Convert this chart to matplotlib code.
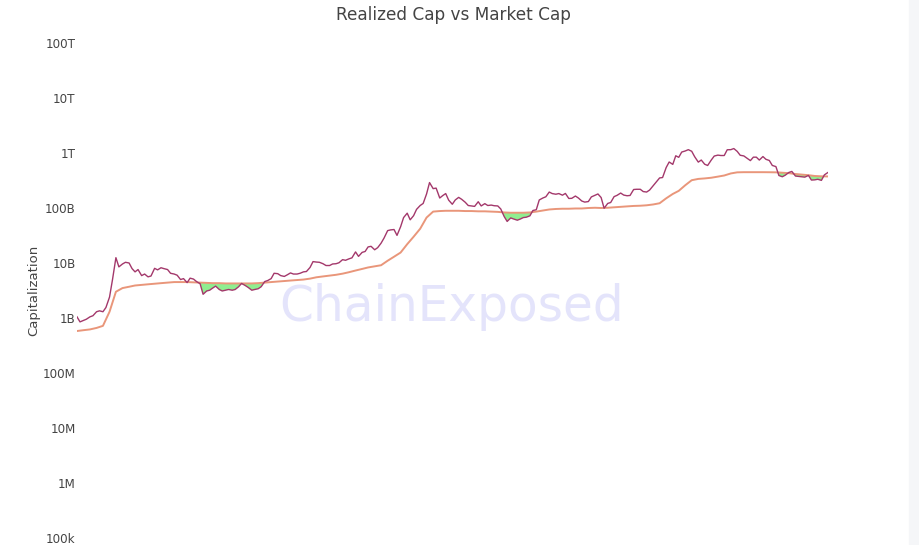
import matplotlib
import matplotlib.pyplot as plt
import matplotlib.patches as mpatches
import numpy as np
import pandas as pd

matplotlib.use('agg')

# market cap, in billions USD, 1st and 15th of each month (jun 2013 - feb 2023)
mcap_2013 = [1.05, 0.85, 0.90, 0.95, 1.05, 1.10, 1.30, 1.35, 1.30, 1.55, 2.4, 5.0, 12.5, 8.5]
mcap_2014 = [9.6, 10.3, 10.0, 7.9, 6.9, 7.6, 5.9, 6.3, 5.6, 5.8, 8.0, 7.5,
             8.2, 7.9, 7.6, 6.5, 6.3, 6.0, 5.0, 5.2, 4.4, 5.3, 5.1, 4.6]
mcap_2015 = [4.2, 2.7, 3.1, 3.2, 3.5, 3.8, 3.3, 3.1, 3.2, 3.3, 3.2, 3.3,
             3.7, 4.25, 3.9, 3.6, 3.2, 3.3, 3.4, 3.7, 4.6, 4.8, 5.2, 6.5]
mcap_2016 = [6.4, 5.9, 5.7, 6.1, 6.6, 6.3, 6.3, 6.5, 6.9, 7.0, 8.3, 10.6,
             10.4, 10.3, 9.7, 9.0, 9.0, 9.6, 9.7, 10.1, 11.5, 11.2, 11.9, 12.4]
mcap_2017 = [15.9, 13.2, 15.6, 16.2, 19.6, 20.1, 17.4, 19.0, 22.9, 28.4, 38.8, 40.0,
             40.6, 31.8, 45.7, 67.0, 80.5, 61.0, 72.5, 94.5, 111, 121, 180, 290]
mcap_2018 = [225, 230, 152, 168, 183, 139, 117, 140, 156, 144, 127, 111,
             109, 107, 130, 109, 120, 111, 113, 110, 109, 96, 70, 57]
mcap_2019 = [66, 63, 60, 63, 67, 68, 72, 90, 93, 140, 152, 160,
             195, 183, 178, 183, 171, 184, 149, 150, 165, 152, 134, 128]
mcap_2020 = [131, 159, 170, 180, 155, 99, 121, 126, 161, 170, 187, 172,
             167, 169, 217, 219, 219, 199, 195, 212, 255, 296, 352, 358]
mcap_2021 = [545, 686, 621, 890, 834, 1040, 1090, 1150, 1075, 855, 683, 745,
             625, 593, 745, 880, 915, 900, 900, 1145, 1150, 1205, 1070, 910]
mcap_2022 = [885, 810, 727, 840, 840, 744, 862, 768, 731, 594, 566, 390,
             370, 395, 443, 462, 381, 375, 368, 364, 391, 322, 325, 333]
mcap_2023 = [318, 400, 443]

# realized cap, in billions USD, 1st of each month
rcap_2013 = [0.58, 0.60, 0.62, 0.66, 0.72, 1.3, 3.0]
rcap_2014 = [3.5, 3.7, 3.9, 4.0, 4.1, 4.2, 4.3, 4.4, 4.5, 4.5, 4.5, 4.45]
rcap_2015 = [4.4, 4.35, 4.3, 4.3, 4.25, 4.25, 4.25, 4.25, 4.25, 4.3, 4.4, 4.5]
rcap_2016 = [4.6, 4.7, 4.8, 4.9, 5.0, 5.2, 5.5, 5.7, 5.9, 6.1, 6.4, 6.8]
rcap_2017 = [7.3, 7.8, 8.3, 8.7, 9.1, 11.0, 13.0, 15.5, 22, 30, 42, 67]
rcap_2018 = [86, 88, 89, 89, 89, 88, 88, 87, 87, 86, 85, 83]
rcap_2019 = [82, 82, 82, 83, 86, 90, 94, 96, 97, 97, 98, 98]
rcap_2020 = [100, 101, 100, 101, 103, 105, 107, 109, 110, 112, 116, 122]
rcap_2021 = [150, 180, 205, 260, 320, 338, 345, 355, 372, 390, 425, 445]
rcap_2022 = [448, 448, 448, 448, 447, 445, 438, 430, 415, 405, 395, 382]
rcap_2023 = [377, 375]

tick_vals = [1e5, 1e6, 1e7, 1e8, 1e9, 1e10, 1e11, 1e12, 1e13, 1e14]
tick_labels = ['100k', '1M', '10M', '100M', '1B', '10B', '100B', '1T', '10T', '100T']

mcap = np.array(mcap_2013 + mcap_2014 + mcap_2015 + mcap_2016 + mcap_2017 + mcap_2018
                + mcap_2019 + mcap_2020 + mcap_2021 + mcap_2022 + mcap_2023) * 1e9
rcap = np.array(rcap_2013 + rcap_2014 + rcap_2015 + rcap_2016 + rcap_2017 + rcap_2018
                + rcap_2019 + rcap_2020 + rcap_2021 + rcap_2022 + rcap_2023) * 1e9

mdates = pd.date_range('2013-06-01', '2023-02-01', freq='SMS')
rdates = pd.date_range('2013-06-01', '2023-02-01', freq='MS')

W, H = 920, 545
plt.rcParams['font.family'] = ['DejaVu Sans']
fig = plt.figure(figsize=(W / 100, H / 100), dpi=100)

# axes placed in pixels
left, right, top, bottom = 77, 828, 30, 545
ax = fig.add_axes([left / W, 1 - bottom / H, (right - left) / W, (bottom - top) / H])

# y range so that 1e14 sits at y=43 and 1e5 at y=538
dec = (538 - 43) / 9.0
ymax = 10 ** (14 + (43 - top) / dec)
ymin = 10 ** (5 - (bottom - 538) / dec)

# realized cap on the market-cap dates, only for the fill
rx = rdates.values.astype('datetime64[D]').astype(float)
mx = mdates.values.astype('datetime64[D]').astype(float)
r_on_m = 10 ** np.interp(mx, rx, np.log10(rcap))

ax.fill_between(mdates, mcap, r_on_m, where=mcap < r_on_m, interpolate=True,
                color='#90ee90', linewidth=0, zorder=1)
ax.plot(rdates, rcap, color='#e9967a', linewidth=1.4, zorder=2)
ax.plot(mdates, mcap, color='#a3386b', linewidth=1.0, zorder=3)

ax.set_yscale('log')
ax.set_ylim(ymin, ymax)
ax.set_xlim(mdates[0], mdates[-1])
ax.set_yticks(tick_vals)
ax.set_yticklabels(tick_labels)
ax.minorticks_off()
ax.set_xticks([])
ax.tick_params(axis='y', length=0, pad=1, labelsize=8.6, labelcolor='#444444')
for s in ax.spines.values():
    s.set_visible(False)
ax.patch.set_alpha(0)

fig.text(453 / W, 1 - 15 / H, 'Realized Cap vs Market Cap', ha='center', va='center',
         fontsize=12.2, color='#444444')
fig.text(34 / W, 1 - 290 / H, 'Capitalization', ha='center', va='center',
         rotation=90, fontsize=9.5, color='#444444')
fig.text(452 / W, 1 - 307 / H, 'ChainExposed', ha='center', va='center',
         fontsize=35, color='#e4e4fb', zorder=0)

# scrollbar strip on the right
fig.patches.append(mpatches.Rectangle((909 / W, 0), 11 / W, 1, transform=fig.transFigure,
                                      color='#f5f6f8', zorder=0))

fig.savefig('out.png', dpi=100)
